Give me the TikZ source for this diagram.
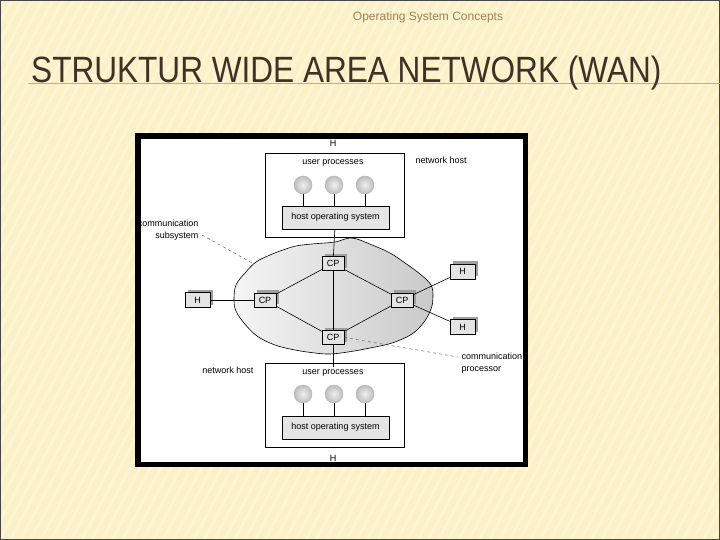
\documentclass[tikz,border=0pt]{standalone}
\usepackage{graphicx}
\usepackage{fontspec}
\setmainfont{Liberation Sans}
\usepackage{xcolor}
\usepackage{tikz}
\usetikzlibrary{shadows, patterns.meta}

\definecolor{slidebg}{HTML}{FCF0C7}
\definecolor{slidestripe}{HTML}{FDF5D5}
\definecolor{titlebrown}{HTML}{3E3226}
\definecolor{headbrown}{HTML}{A08058}
\definecolor{ruleorange}{HTML}{E4A848}
\definecolor{boxgray}{HTML}{E4E4E4}

\tikzset{
  small/.style={font=\fontsize{9}{12}\selectfont},
  hostbox/.style={draw, line width=0.5pt, minimum width=139pt, minimum height=84pt, inner sep=0pt},
  osbox/.style={draw, fill=boxgray, line width=0.5pt, minimum width=107pt, minimum height=23pt, small},
  proc/.style={circle, draw=gray!60, shading=radial, inner color=gray!12, outer color=gray!52, minimum size=18pt, inner sep=0pt},
  cpbox/.style={draw, fill=boxgray, line width=0.6pt, minimum width=22pt, minimum height=14pt, inner sep=1pt, small,
    drop shadow={shadow xshift=3pt, shadow yshift=3pt, fill=gray!75, opacity=1}},
  link/.style={black, line width=0.6pt},
  leader/.style={gray!60!black, line width=0.4pt, dashed}
}

\begin{document}
\begin{tikzpicture}[x=1pt, y=-1pt]
\useasboundingbox (0,0) rectangle (720,540);
% slide background
\fill[slidebg] (0,0) rectangle (720,540);
\fill[pattern={Lines[angle=62, distance=9pt, line width=3pt]}, pattern color=slidestripe] (0,0) rectangle (720,540);
\draw[gray!55!black, line width=1pt] (0.5,0.5) rectangle (719.5,539.5);
% header and title
\node[anchor=base, text=headbrown, font=\fontsize{12}{14}\selectfont, inner sep=0pt] (header) at (428,21) {Operating System Concepts};
\draw[ruleorange, line width=1pt] (28,84) -- (720,84);
\node[anchor=base west, text=titlebrown, inner sep=0pt] (title) at (31,83) {\resizebox{630pt}{26.5pt}{STRUKTUR WIDE AREA NETWORK (WAN)}};
% picture frame
\fill[black] (135,133) rectangle (528,467);
\fill[white] (141,139) rectangle (523,462);
% communication subsystem cloud
\shade[left color=gray!8, right color=gray!42, draw=black, line width=0.6pt]
  plot[smooth cycle, tension=0.6] coordinates {(234,300) (236,285) (245,273) (256,262) (270,255) (283,250) (296,246)
  (312,244) (335,242) (352,238) (372,245) (390,253) (405,263) (420,274) (431,285) (433,297) (431,309) (424,322)
  (412,334) (392,343) (370,348) (348,352) (330,354) (315,353) (295,350) (275,345) (257,336) (244,323) (236,311)};
% upper network host
\node[hostbox] (hostA) at (334.5,195) {};
\node[small] (hlabA) at (333,143) {H};
\node[small] (upA) at (333,163) {user processes};
\node[small, anchor=west] (nhA) at (412,160) {network host};
\node[osbox] (osA) at (335.5,217.5) {host operating system};
\foreach \x [count=\i] in {303,334,365} {
  \node[proc] (pA\i) at (\x,185) {};
  \draw[link] (pA\i) -- (pA\i |- osA.north);
}
% lower network host
\node[hostbox] (hostB) at (334.5,405) {};
\node[small] (hlabB) at (333,458) {H};
\node[small] (upB) at (333,373) {user processes};
\node[small, anchor=east] (nhB) at (257,370) {network host};
\node[osbox] (osB) at (335.5,427.5) {host operating system};
\foreach \x [count=\i] in {303,334,365} {
  \node[proc] (pB\i) at (\x,394) {};
  \draw[link] (pB\i) -- (pB\i |- osB.north);
}
% communication processors
\node[cpbox] (cpT) at (333,263.5) {CP};
\node[cpbox] (cpL) at (265,300) {CP};
\node[cpbox] (cpR) at (402,300) {CP};
\node[cpbox] (cpB) at (333,337.5) {CP};
% remote hosts
\node[cpbox, minimum width=25pt, minimum height=15pt] (hL) at (197.5,300) {H};
\node[cpbox, minimum width=25pt, minimum height=15pt] (hRT) at (462.5,271.5) {H};
\node[cpbox, minimum width=25pt, minimum height=15pt] (hRB) at (462.5,327) {H};
% links
\draw[link] (osA) -- (cpT);
\coordinate (enterB) at (333,367);
\draw[link] (cpB) -- (enterB);
\draw[link] (cpT) -- (cpB);
\draw[link] (cpL) -- (cpT);
\draw[link] (cpL) -- (cpB);
\draw[link] (cpR) -- (cpT);
\draw[link] (cpR) -- (cpB);
\draw[link] (hL) -- (cpL);
\draw[link] (cpR) -- (hRT);
\draw[link] (cpR) -- (hRB);
% labels with leaders
\node[small, align=right, anchor=east] (subsys) at (202,230) {communication\\subsystem};
\coordinate (subsysEnd) at (254,264);
\draw[leader] (subsys.east |- 0,235) -- (subsysEnd);
\node[small, align=left, anchor=west] (cproc) at (458,363) {communication\\processor};
\draw[leader] (cpB.east) -- (cproc.west |- 0,357);
\end{tikzpicture}
\end{document}
